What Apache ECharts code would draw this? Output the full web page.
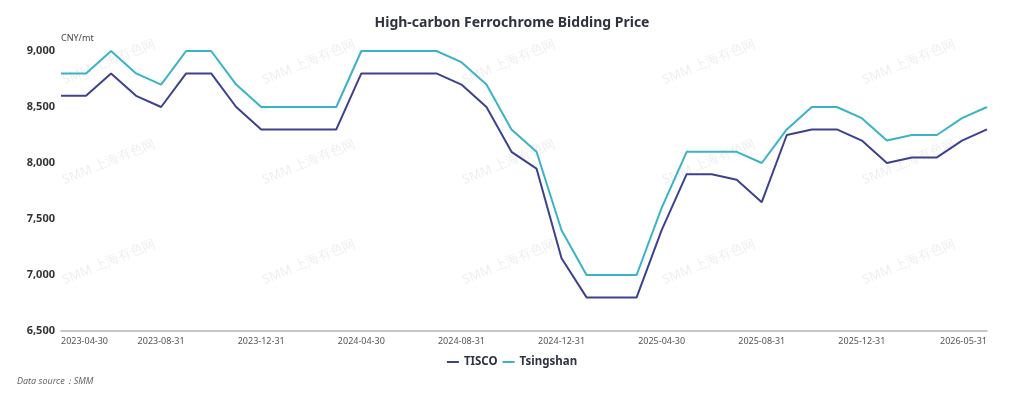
<!DOCTYPE html>
<html>
<head>
<meta charset="utf-8">
<title>High-carbon Ferrochrome Bidding Price</title>
<script src="https://cdn.jsdelivr.net/npm/echarts@6/dist/echarts.min.js"></script>
<style>
    html, body { margin: 0; padding: 0; background: #fff; }
    #chart { width: 1024px; height: 399px; }
</style>
</head>
<body>
<div id="chart"></div>
<script>
// month-end dates, 2023-04 .. 2026-05
const categories = [
    "2023-04-30", "2023-05-31", "2023-06-30", "2023-07-31", "2023-08-31",
    "2023-09-30", "2023-10-31", "2023-11-30", "2023-12-31", "2024-01-31",
    "2024-02-29", "2024-03-31", "2024-04-30", "2024-05-31", "2024-06-30",
    "2024-07-31", "2024-08-31", "2024-09-30", "2024-10-31", "2024-11-30",
    "2024-12-31", "2025-01-31", "2025-02-28", "2025-03-31", "2025-04-30",
    "2025-05-31", "2025-06-30", "2025-07-31", "2025-08-31", "2025-09-30",
    "2025-10-31", "2025-11-30", "2025-12-31", "2026-01-31", "2026-02-28",
    "2026-03-31", "2026-04-30", "2026-05-31"
];

const tisco = [
    8600, 8600, 8800, 8600, 8500, 8800, 8800, 8500, 8300, 8300,
    8300, 8300, 8800, 8800, 8800, 8800, 8700, 8500, 8100, 7950,
    7150, 6800, 6800, 6800, 7400, 7900, 7900, 7850, 7650, 8250,
    8300, 8300, 8200, 8000, 8050, 8050, 8200, 8300
];

const tsingshan = [
    8800, 8800, 9000, 8800, 8700, 9000, 9000, 8700, 8500, 8500,
    8500, 8500, 9000, 9000, 9000, 9000, 8900, 8700, 8300, 8100,
    7400, 7000, 7000, 7000, 7600, 8100, 8100, 8100, 8000, 8300,
    8500, 8500, 8400, 8200, 8250, 8250, 8400, 8500
];

const seriesNames = ["TISCO", "Tsingshan"];
const seriesColors = ["#3c4190", "#3ab3c7"];

const FONT = "'Noto Sans', 'Open Sans', sans-serif";

// faint "SMM 上海有色网" watermark grid
function buildWatermarks() {
    const out = [];
    const cols = [109, 309, 509, 709, 909];
    const rows = [62, 162, 262];
    for (const y of rows) {
        for (const x of cols) {
            out.push({
                type: "text",
                x, y,
                rotation: 0.39,
                z: -10,
                silent: true,
                style: {
                    text: "SMM 上海有色网",
                    fill: "rgba(0,0,0,0.07)",
                    font: "13px " + FONT,
                    align: "center",
                    verticalAlign: "middle"
                }
            });
        }
    }
    return out;
}

const chart = echarts.init(document.getElementById("chart"), null, { renderer: "canvas" });

chart.setOption({
    animation: false,
    backgroundColor: "#fff",
    textStyle: { fontFamily: FONT },
    title: {
        text: "High-carbon Ferrochrome Bidding Price",
        left: "center",
        top: 11,
        textStyle: { fontSize: 14, fontWeight: "bold", color: "#30333f", fontFamily: FONT }
    },
    legend: {
        bottom: 26,
        left: "center",
        itemWidth: 12,
        itemHeight: 2,
        itemGap: 5,
        icon: "rect",
        textStyle: { fontSize: 11.5, fontWeight: "bold", color: "#30333f", fontFamily: FONT },
        data: seriesNames
    },
    grid: { left: 61, right: 37, top: 51, bottom: 68, containLabel: false },
    graphic: [
        ...buildWatermarks(),
        {
            type: "text",
            left: 17,
            top: 377,
            style: {
                text: "Data source：SMM",
                fill: "#666",
                font: "italic 9px " + FONT
            }
        }
    ],
    xAxis: {
        type: "category",
        boundaryGap: false,
        data: categories,
        axisLine: { lineStyle: { color: "#b4b7c0", width: 1.5 } },
        axisTick: { show: false },
        axisLabel: {
            color: "#555",
            fontSize: 9,
            margin: 6,
            interval: (idx) => (idx % 4 === 0 && idx < 36) || idx === categories.length - 1,
            alignMinLabel: "left",
            alignMaxLabel: "right"
        }
    },
    yAxis: {
        type: "value",
        min: 6500,
        max: 9000,
        interval: 500,
        name: "CNY/mt",
        nameLocation: "end",
        nameGap: 8,
        nameTextStyle: { align: "left", color: "#444", fontSize: 9, padding: [0, 0, 0, 0] },
        axisLine: { show: false },
        axisTick: { show: false },
        splitLine: { show: false },
        axisLabel: {
            color: "#333",
            fontSize: 11,
            fontWeight: "bold",
            margin: 6,
            formatter: (v) => v.toLocaleString("en-US")
        }
    },
    series: [
        {
            name: seriesNames[0],
            type: "line",
            data: tisco,
            showSymbol: false,
            symbol: "none",
            color: seriesColors[0],
            lineStyle: { width: 2, color: seriesColors[0] }
        },
        {
            name: seriesNames[1],
            type: "line",
            data: tsingshan,
            showSymbol: false,
            symbol: "none",
            color: seriesColors[1],
            lineStyle: { width: 2, color: seriesColors[1] }
        }
    ]
});
</script>
</body>
</html>
